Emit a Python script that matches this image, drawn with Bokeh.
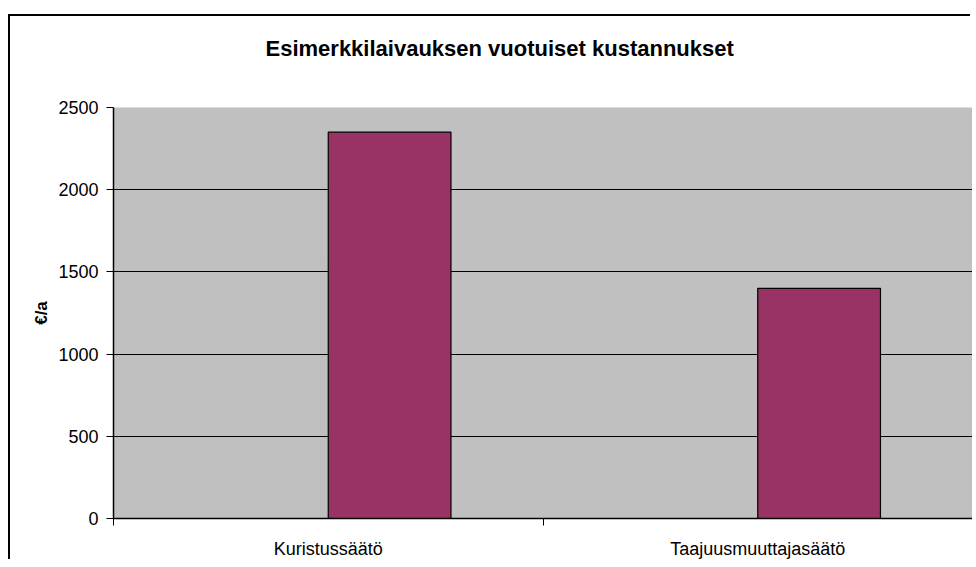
from bokeh.plotting import figure
from bokeh.models import FixedTicker, ColumnDataSource, LinearAxis, Title, Grid
from bokeh.embed import file_html
from bokeh.resources import INLINE

# ---- data ----
categories = ["Kuristussäätö", "Taajuusmuuttajasäätö"]
costs = [2350, 1400]
y_ticks = [0, 500, 1000, 1500, 2000, 2500]
title_text = "Esimerkkilaivauksen vuotuiset kustannukset"
y_label = "€/a"

# Excel-like clustered layout: gap width 150%, visible series in right slot
bar_w = 1 / 3.5
centers = [i + 0.5 for i in range(len(categories))]
src = ColumnDataSource(dict(
    x=[c + bar_w / 2 for c in centers],
    top=costs,
    cat=categories,
))

p = figure(
    width=962, height=545,
    x_range=(0, len(categories)), y_range=(y_ticks[0], y_ticks[-1]),
    output_backend="svg", toolbar_location=None,
    min_border_left=103, min_border_top=91, min_border_bottom=43, min_border_right=0,
    margin=(16, 0, 0, 10),
    background_fill_color="#C0C0C0",
    border_fill_color="white",
)
p.styles = {"box-shadow": "-2px -2px 0px 0px black", "background-color": "white"}

# invisible spacer between frame and title
spacer = LinearAxis(ticker=FixedTicker(ticks=[0]), axis_line_color=None,
                    major_tick_line_color=None, minor_tick_line_color=None,
                    major_tick_out=42, major_tick_in=0, minor_tick_out=0, minor_tick_in=0,
                    major_label_overrides={0: ""}, major_label_text_font_size="1px",
                    major_label_standoff=0, axis_label_standoff=0)
p.add_layout(spacer, "above")

title = Title(text=title_text, align="left", offset=152,
              text_font="Liberation Sans", text_font_size="22px",
              text_font_style="bold", text_color="black", standoff=10)
p.add_layout(title, "above")

p.vbar(x="x", top="top", width=bar_w, bottom=0, source=src,
       fill_color="#993366", line_color="black", line_width=1.2)

# y axis
p.yaxis.ticker = FixedTicker(ticks=y_ticks)
p.yaxis.axis_label = y_label
p.yaxis.axis_label_text_font = "Liberation Sans"
p.yaxis.axis_label_text_font_size = "17px"
p.yaxis.axis_label_text_font_style = "bold"
p.yaxis.axis_label_text_color = "black"
p.yaxis.axis_label_standoff = 4
p.yaxis.major_label_text_font = "Liberation Sans"
p.yaxis.major_label_text_font_size = "18px"
p.yaxis.major_label_text_color = "black"
p.yaxis.major_label_standoff = 8
p.yaxis.major_tick_in = 0
p.yaxis.major_tick_out = 7
p.yaxis.major_tick_line_color = "black"
p.yaxis.minor_tick_line_color = None
p.yaxis.axis_line_color = "black"
p.yaxis.axis_line_width = 1.5

# x axis: labels at category centres, tick marks at category boundaries
xax = p.below[0]
xax.ticker = FixedTicker(ticks=centers, minor_ticks=list(range(len(categories) + 1)))
xax.major_label_overrides = {c: name for c, name in zip(centers, categories)}
xax.major_label_text_font = "Liberation Sans"
xax.major_label_text_font_size = "18px"
xax.major_label_text_color = "black"
xax.major_label_standoff = 13
xax.major_tick_line_color = None
xax.major_tick_in = 0
xax.major_tick_out = 0
xax.minor_tick_in = 0
xax.minor_tick_out = 7
xax.minor_tick_line_color = "black"
xax.axis_line_color = "black"
xax.axis_line_width = 1.5

# grid: black inner lines, grey line at the top of the plot area
p.xgrid.grid_line_color = None
p.ygrid.ticker = FixedTicker(ticks=y_ticks[1:-1])
p.ygrid.grid_line_color = "black"
p.ygrid.grid_line_width = 1
top_grid = Grid(dimension=1, ticker=FixedTicker(ticks=[y_ticks[-1]]),
                grid_line_color="#808080", grid_line_width=2)
p.add_layout(top_grid)

p.outline_line_color = None

open("out.html", "w").write(file_html(p, INLINE))
